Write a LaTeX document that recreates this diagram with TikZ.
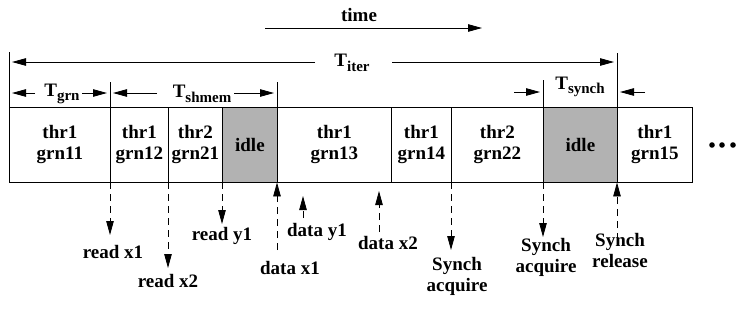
\documentclass[tikz,border=0pt]{standalone}
\usepackage{fontspec}
\setmainfont{Liberation Serif}
\usetikzlibrary{arrows.meta}
\definecolor{idlegray}{gray}{0.70}
\newcommand{\lowsub}[1]{\raisebox{-4.5pt}{\fontsize{15}{15}\selectfont #1}}
\tikzset{
  seg/.style={draw, line width=0.8pt, anchor=west, minimum height=75pt, inner sep=0pt,
    align=center, font=\fontsize{19}{21}\selectfont\bfseries},
  idleseg/.style={seg, fill=idlegray},
  lbl/.style={align=center, inner sep=0pt, font=\fontsize{19}{21}\selectfont\bfseries},
  arr/.style={line width=0.8pt, -{Triangle[length=14pt,width=7.5pt]}},
  dimarr/.style={arr, shorten >=3pt},
  darr/.style={arr, dash pattern=on 7pt off 5pt},
  bar/.style={line width=0.8pt},
}
\begin{document}
\begin{tikzpicture}[x=1pt,y=-1pt]
\useasboundingbox (0,0) rectangle (736,322);

% the time line of granules
\node[seg, minimum width=101pt] (s1) at (9,144.5)   {thr1\\grn11};
\node[seg, minimum width=58pt]  (s2) at (110,144.5) {thr1\\grn12};
\node[seg, minimum width=54pt]  (s3) at (168,144.5) {thr2\\grn21};
\node[idleseg, minimum width=55pt] (s4) at (222,144.5) {idle};
\node[seg, minimum width=114pt] (s5) at (277,144.5) {thr1\\grn13};
\node[seg, minimum width=60pt]  (s6) at (391,144.5) {thr1\\grn14};
\node[seg, minimum width=92pt]  (s7) at (451,144.5) {thr2\\grn22};
\node[idleseg, minimum width=74pt] (s8) at (543,144.5) {idle};
\node[seg, minimum width=75pt]  (s9) at (617,144.5) {thr1\\grn15};

% continuation dots
\foreach \x in {712,722,733} \fill (\x,145) circle (2.8pt);

% time direction
\node[lbl] (time) at (359,15) {time};
\coordinate (t0) at (265,28);
\coordinate (t1) at (482,28);
\draw[arr] (t0) -- (t1);

% interval bars
\coordinate (b0) at (9,52);
\coordinate (b1) at (110,82);
\coordinate (b2) at (277,82);
\coordinate (b3) at (543,80);
\coordinate (b4) at (617,53);
\draw[bar] (b0) -- (s1.north west);
\draw[bar] (b1) -- (s2.north west);
\draw[bar] (b2) -- (s5.north west);
\draw[bar] (b3) -- (s8.north west);
\draw[bar] (b4) -- (s9.north west);

% T_iter
\node[lbl] (titer) at (352,63) {T\lowsub{iter}};
\coordinate (ti0) at (315,62); \coordinate (ti1) at (9,62);
\coordinate (ti2) at (392,62); \coordinate (ti3) at (617,62);
\draw[dimarr] (ti0) -- (ti1);
\draw[dimarr] (ti2) -- (ti3);

% T_grn
\node[lbl] (tgrn) at (62,94) {T\lowsub{grn}};
\coordinate (tg0) at (35,93); \coordinate (tg1) at (9,93);
\coordinate (tg2) at (82,93); \coordinate (tg3) at (110,93);
\draw[dimarr] (tg0) -- (tg1);
\draw[dimarr] (tg2) -- (tg3);

% T_shmem
\node[lbl] (tsh) at (202,94) {T\lowsub{shmem}};
\coordinate (ts0) at (157,93); \coordinate (ts1) at (110,93);
\coordinate (ts2) at (234,93); \coordinate (ts3) at (277,93);
\draw[dimarr] (ts0) -- (ts1);
\draw[dimarr] (ts2) -- (ts3);

% T_synch
\node[lbl] (tsy) at (580,87) {T\lowsub{synch}};
\coordinate (ty0) at (514,92); \coordinate (ty1) at (543,92);
\coordinate (ty2) at (645,92); \coordinate (ty3) at (617,92);
\draw[dimarr] (ty0) -- (ty1);
\draw[dimarr] (ty2) -- (ty3);

% events below the time line
\coordinate (rx1) at (110,235);
\coordinate (rx2) at (168,268);
\coordinate (ry1) at (222,224);
\draw[darr] (s2.south west) -- (rx1);
\draw[darr] (s3.south west) -- (rx2);
\draw[darr] (s4.south west) -- (ry1);
\node[lbl] (lrx1) at (113,252) {read x1};
\node[lbl] (lrx2) at (168,281) {read x2};
\node[lbl] (lry1) at (222,236) {read y1};

\coordinate (dx1) at (277,250);
\coordinate (dy1a) at (303,218); \coordinate (dy1b) at (303,196);
\coordinate (dx2a) at (379,232); \coordinate (dx2b) at (379,191);
\draw[darr] (dx1) -- (s5.south west);
\draw[darr] (dy1a) -- (dy1b);
\draw[darr] (dx2a) -- (dx2b);
\node[lbl] (ldx1) at (290,268) {data x1};
\node[lbl] (ldy1) at (317,232) {data y1};
\node[lbl] (ldx2) at (388,243) {data x2};

\coordinate (sa1) at (451,250);
\coordinate (sa2) at (543,237);
\coordinate (sr) at (617,240);
\draw[darr] (s7.south west) -- (sa1);
\draw[darr] (s8.south west) -- (sa2);
\draw[darr] (sr) -- (s9.south west);
\node[lbl] (lsa1) at (457,276) {Synch\\acquire};
\node[lbl] (lsa2) at (546,257) {Synch\\acquire};
\node[lbl] (lsr) at (620,250) {Synch\\release};
\end{tikzpicture}
\end{document}
